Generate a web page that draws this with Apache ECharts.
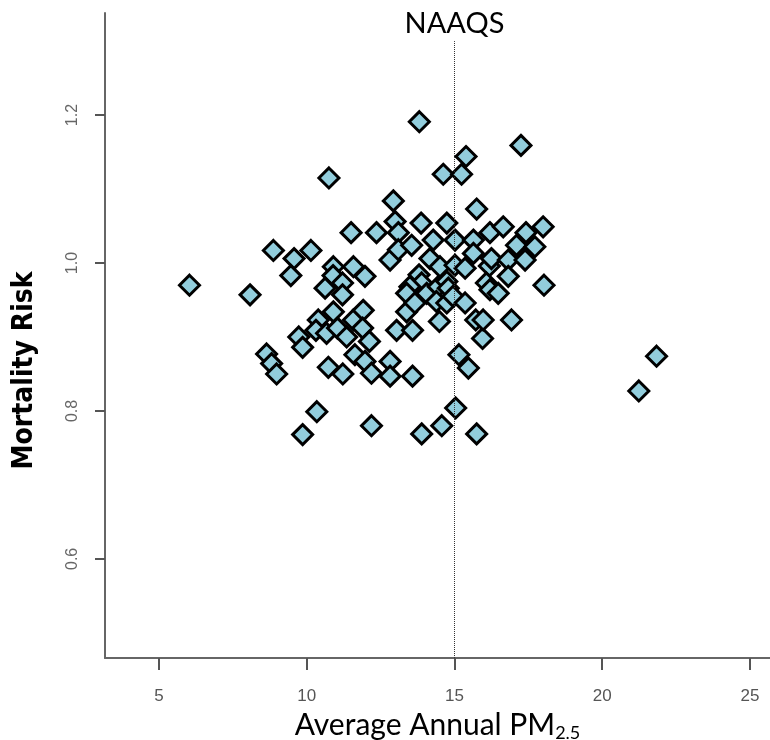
<!DOCTYPE html>
<html>
<head>
<meta charset="utf-8">
<script src="https://cdn.jsdelivr.net/npm/echarts@6/dist/echarts.min.js"></script>
<style>
  html, body { margin: 0; padding: 0; background: #fff; }
  #main { width: 770px; height: 740px; }
</style>
</head>
<body>
<div id="main"></div>
<script>
  // PM2.5 (x) and mortality risk (y)
  const pm25 = [
    6.03, 8.08, 8.87, 9.57, 10.14, 9.46, 10.75, 10.90, 10.89, 10.62,
    10.90, 10.39, 10.31, 10.67, 9.73, 9.86, 8.64, 8.81, 8.98, 10.73,
    10.34, 9.86, 11.04, 11.50, 11.58, 11.21, 11.21, 11.58, 11.35, 11.63,
    11.22, 11.97, 11.91, 11.89, 12.12, 11.97, 12.19, 12.36, 12.19, 12.82,
    12.82, 12.82, 12.93, 12.99, 13.10, 13.10, 13.55, 13.58, 13.04, 13.58,
    13.38, 13.81, 13.87, 13.80, 13.89, 13.49, 13.38, 13.66, 13.89, 14.06,
    14.17, 14.28, 14.45, 14.51, 14.49, 14.39, 14.57, 14.62, 14.74, 14.74,
    14.74, 14.79, 14.95, 15.02, 15.02, 15.04, 15.15, 15.24, 15.39, 15.36,
    15.36, 15.47, 15.64, 15.64, 15.75, 15.72, 15.75, 15.95, 15.97, 16.18,
    16.20, 16.25, 16.08, 16.20, 16.48, 16.65, 16.82, 16.82, 16.93, 17.10,
    17.25, 17.39, 17.42, 17.72, 18.00, 18.03, 21.84, 21.24
  ];
  const risk = [
    0.970, 0.957, 1.017, 1.006, 1.017, 0.983, 1.115, 0.995, 0.983, 0.966,
    0.934, 0.923, 0.909, 0.905, 0.900, 0.886, 0.877, 0.864, 0.850, 0.859,
    0.799, 0.768, 0.912, 1.041, 0.995, 0.973, 0.957, 0.923, 0.900, 0.876,
    0.850, 0.982, 0.936, 0.912, 0.894, 0.867, 0.851, 1.041, 0.780, 1.004,
    0.867, 0.847, 1.084, 1.056, 1.041, 1.018, 1.024, 0.847, 0.909, 0.909,
    0.934, 1.191, 1.054, 0.984, 0.973, 0.968, 0.959, 0.946, 0.769, 0.959,
    1.006, 1.031, 0.968, 0.995, 0.921, 0.948, 0.780, 1.120, 1.054, 0.975,
    0.946, 0.966, 0.955, 1.031, 0.997, 0.804, 0.876, 1.120, 1.144, 0.993,
    0.946, 0.858, 1.031, 1.013, 1.073, 0.923, 0.769, 0.898, 0.923, 0.996,
    1.041, 1.006, 0.973, 0.964, 0.959, 1.049, 1.004, 0.982, 0.923, 1.024,
    1.159, 1.004, 1.041, 1.022, 1.049, 0.970, 0.874, 0.827
  ];
  const xTicks = [5, 10, 15, 20, 25];
  const yTicks = [0.6, 0.8, 1.0, 1.2];
  const naaqs = 15;

  const points = pm25.map((v, i) => [v, risk[i]]);

  let myChart = echarts.init(document.getElementById('main'));
  let option = {
    animation: false,
    grid: { left: 105, right: 0, top: 13, bottom: 82, containLabel: false, outerBoundsMode: 'none' },
    xAxis: {
      type: 'value',
      min: 3.17,
      max: 25.68,
      splitLine: { show: false },
      axisLine: { onZero: false, lineStyle: { color: '#666', width: 2 } },
      axisTick: { customValues: xTicks, length: 12, lineStyle: { color: '#555', width: 2 } },
      axisLabel: {
        customValues: xTicks,
        color: '#555',
        fontSize: 17,
        fontFamily: 'Liberation Sans',
        margin: 30
      },
      name: '{a|Average Annual PM}{b|2.5}',
      nameLocation: 'middle',
      nameGap: 43,
      nameTextStyle: {
        rich: {
          a: { fontSize: 30, fontFamily: 'Lato', color: '#000' },
          b: { fontSize: 18, fontFamily: 'Lato', color: '#000', verticalAlign: 'bottom', padding: [17, 0, 0, 0] }
        }
      }
    },
    yAxis: {
      type: 'value',
      min: 0.466,
      max: 1.338,
      splitLine: { show: false },
      axisLine: { onZero: false, lineStyle: { color: '#666', width: 2 } },
      axisTick: { customValues: yTicks, length: 10, lineStyle: { color: '#555', width: 2 } },
      axisLabel: {
        customValues: yTicks,
        rotate: 90,
        color: '#666',
        fontSize: 16,
        fontFamily: 'Liberation Sans',
        margin: 24,
        formatter: v => v.toFixed(1)
      },
      name: 'Mortality Risk',
      nameLocation: 'middle',
      nameGap: 66,
      nameRotate: 90,
      nameTextStyle: {
        fontSize: 28,
        fontWeight: 'bold',
        fontFamily: '"DejaVu Sans Condensed", "Liberation Sans", sans-serif',
        color: '#000',
        padding: [0, 70, 0, 0]
      }
    },
    series: [
      {
        type: 'scatter',
        data: points,
        symbol: 'diamond',
        symbolSize: 20,
        itemStyle: { color: '#92CDDC', borderColor: '#000', borderWidth: 3, opacity: 1 },
        markLine: {
          silent: true,
          symbol: 'none',
          lineStyle: { type: 'dotted', color: '#333', width: 1 },
          label: {
            show: true,
            position: 'end',
            formatter: 'NAAQS',
            fontSize: 29,
            fontFamily: 'Lato',
            color: '#000',
            distance: 3
          },
          data: [[{ coord: [naaqs, 0.466] }, { coord: [naaqs, 1.30] }]]
        }
      }
    ]
  };
  myChart.setOption(option);
</script>
</body>
</html>
